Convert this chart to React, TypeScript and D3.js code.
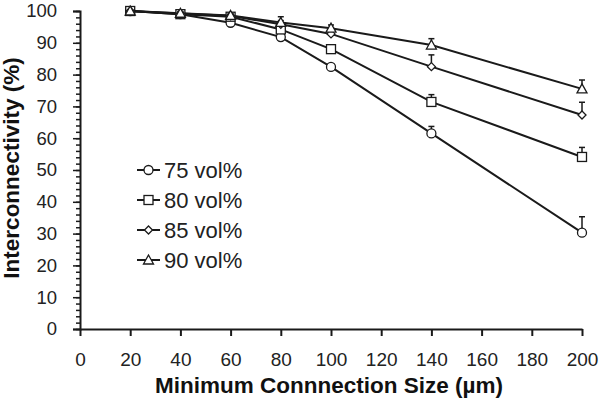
import React, { useEffect, useRef } from 'react'
import * as d3 from 'd3'

const sizes = [20, 40, 60, 80, 100, 140, 200]

const labels = ['75 vol%', '80 vol%', '85 vol%', '90 vol%']
const shapes = ['circle', 'square', 'diamond', 'triangle']

const values75 = [100, 99, 96.3, 91.8, 82.4, 61.5, 30.3]
const values80 = [100, 99, 98.2, 94.2, 88, 71.4, 54.1]
const values85 = [100, 99.2, 98.5, 95.8, 92.8, 82.5, 67.3]
const values90 = [100, 99.3, 98.6, 96.4, 94.6, 89.3, 75.5]

const errors75 = [0.3, 0.6, 0.6, 0.8, 0.8, 2.2, 5]
const errors80 = [0.3, 0.5, 0.5, 1, 0.8, 2.3, 3]
const errors85 = [0.3, 0.5, 0.5, 1.2, 1, 3.7, 4]
const errors90 = [0.3, 0.5, 0.5, 1.8, 1, 2, 2.8]

const xTicks = [0, 20, 40, 60, 80, 100, 120, 140, 160, 180, 200]
const yTicks = [0, 10, 20, 30, 40, 50, 60, 70, 80, 90, 100]

const App = () => {
  const ref = useRef<SVGSVGElement>(null)

  useEffect(() => {
    const svg = d3.select(ref.current)
    svg.selectAll('*').remove()

    const ink = '#1a1a1a'
    const font = "'Liberation Sans', Arial, sans-serif"

    const x = d3.scaleLinear().domain([0, 200]).range([80, 582])
    const y = d3.scaleLinear().domain([0, 100]).range([329, 11])

    const series = [
      { name: labels[0], shape: shapes[0], values: values75, errors: errors75 },
      { name: labels[1], shape: shapes[1], values: values80, errors: errors80 },
      { name: labels[2], shape: shapes[2], values: values85, errors: errors85 },
      { name: labels[3], shape: shapes[3], values: values90, errors: errors90 },
    ]

    // y axis, minor ticks every 2
    const yMinor = svg.append('g').attr('transform', `translate(${x(0)},0)`)
    yMinor
      .call(d3.axisLeft(y).tickValues(d3.range(0, 101, 2)).tickSize(4).tickFormat(() => ''))
      .call((g) => g.select('.domain').remove())
    yMinor.selectAll('line').attr('stroke', ink).attr('stroke-width', 1.5)
    const yMajor = svg.append('g').attr('transform', `translate(${x(0)},0)`)
    yMajor.call(d3.axisLeft(y).tickValues(yTicks).tickSize(7).tickPadding(16))
    yMajor.select('.domain').attr('stroke', ink).attr('stroke-width', 2)
    yMajor.selectAll('line').attr('stroke', ink).attr('stroke-width', 1.5)
    yMajor
      .selectAll('text')
      .attr('font-family', font)
      .attr('font-size', 18.5)
      .attr('fill', '#222')

    const xAxis = svg.append('g').attr('transform', `translate(0,${y(0)})`)
    xAxis.call(d3.axisBottom(x).tickValues(xTicks).tickSize(7).tickPadding(17).tickSizeOuter(0))
    xAxis.select('.domain').attr('stroke', ink).attr('stroke-width', 2)
    xAxis.selectAll('line').attr('stroke', ink).attr('stroke-width', 2)
    xAxis
      .selectAll('text')
      .attr('font-family', font)
      .attr('font-size', 19)
      .attr('fill', '#222')

    svg
      .append('text')
      .attr('x', 329)
      .attr('y', 393)
      .attr('text-anchor', 'middle')
      .attr('font-family', font)
      .attr('font-weight', 'bold')
      .attr('font-size', 22.5)
      .attr('fill', '#111')
      .text('Minimum Connnection Size (µm)')

    svg
      .append('text')
      .attr('transform', 'translate(19,168) rotate(-90)')
      .attr('text-anchor', 'middle')
      .attr('font-family', font)
      .attr('font-weight', 'bold')
      .attr('font-size', 22.5)
      .attr('fill', '#111')
      .text('Interconnectivity (%)')

    const drawMarker = (g, shape, cx, cy) => {
      const common = (s) => s.attr('fill', 'white').attr('stroke', ink).attr('stroke-width', 1.3)
      if (shape === 'circle') {
        g.append('circle').attr('cx', cx).attr('cy', cy).attr('r', 4.5).call(common)
      } else if (shape === 'square') {
        g.append('rect').attr('x', cx - 4.5).attr('y', cy - 4.5).attr('width', 9).attr('height', 9).call(common)
      } else if (shape === 'diamond') {
        g.append('path')
          .attr('d', `M${cx},${cy - 4}L${cx + 4},${cy}L${cx},${cy + 4}L${cx - 4},${cy}Z`)
          .call(common)
      } else {
        g.append('path')
          .attr('d', `M${cx},${cy - 5}L${cx + 5},${cy + 4}L${cx - 5},${cy + 4}Z`)
          .call(common)
      }
    }

    const line = d3
      .line<number>()
      .x((d, i) => x(sizes[i]))
      .y((d) => y(d))

    const plot = svg.append('g')
    series.forEach((s) => {
      plot
        .append('path')
        .attr('d', line(s.values))
        .attr('fill', 'none')
        .attr('stroke', ink)
        .attr('stroke-width', 2)
    })
    series.forEach((s) => {
      const g = plot.append('g')
      s.values.forEach((v, i) => {
        const cx = x(sizes[i])
        const top = y(v + s.errors[i])
        g.append('line').attr('x1', cx).attr('x2', cx).attr('y1', y(v)).attr('y2', top).attr('stroke', ink).attr('stroke-width', 1.5)
        g.append('line').attr('x1', cx - 3).attr('x2', cx + 3).attr('y1', top).attr('y2', top).attr('stroke', ink).attr('stroke-width', 1.5)
      })
      s.values.forEach((v, i) => drawMarker(g, s.shape, x(sizes[i]), y(v)))
    })

    const legend = svg.append('g')
    series.forEach((s, i) => {
      const ly = 170 + i * 30
      legend.append('line').attr('x1', 137).attr('x2', 160).attr('y1', ly).attr('y2', ly).attr('stroke', ink).attr('stroke-width', 2)
      drawMarker(legend, s.shape, 148.5, ly)
      legend
        .append('text')
        .attr('x', 164)
        .attr('y', ly + 8)
        .attr('font-family', font)
        .attr('font-size', 22)
        .attr('fill', '#222')
        .text(s.name)
    })
  }, [])

  return (
    <svg ref={ref} width={600} height={401} style={{ position: 'absolute', left: 0, top: 0, background: 'white' }} />
  )
}

export default App
